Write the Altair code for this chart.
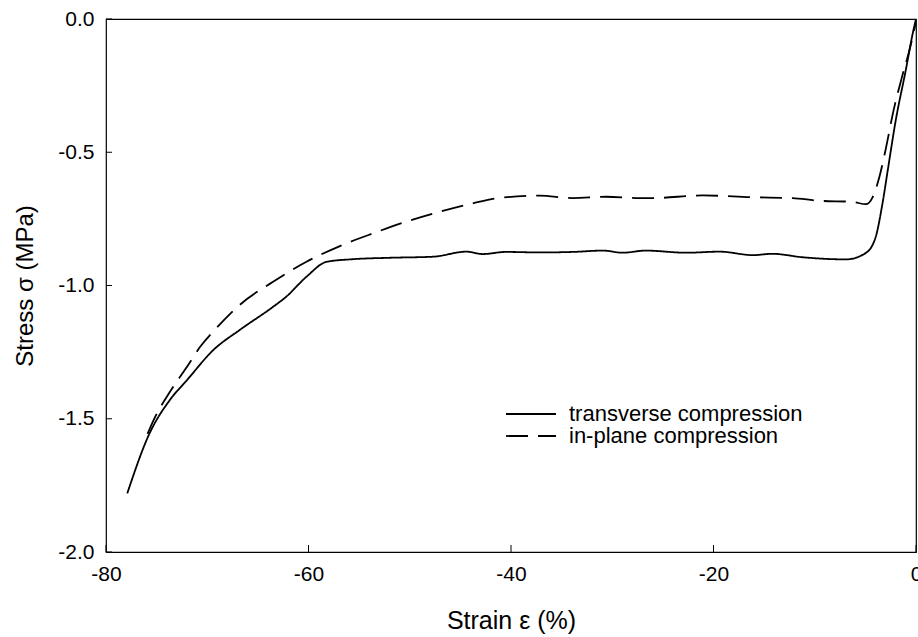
import altair as alt
import pandas as pd

# transverse compression (solid)
t_strain = [-77.9, -75.7, -73.7, -72.0, -69.4, -66.8, -63.5, -62.2, -60.2, -58.2,
            -55.9, -52.0, -47.7, -44.4, -42.8, -40.5, -37.2, -33.9, -30.9, -29.0,
            -26.7, -22.7, -19.4, -16.1, -14.2, -11.2, -6.9, -5.0, -4.0, -3.3,
            -2.8, -2.0, -1.0, -0.3, 0.0]
t_stress = [-1.78, -1.555, -1.43, -1.355, -1.242, -1.167, -1.08, -1.042, -0.967, -0.911,
            -0.902, -0.896, -0.892, -0.873, -0.882, -0.874, -0.876, -0.874, -0.869, -0.877,
            -0.869, -0.877, -0.873, -0.886, -0.881, -0.894, -0.902, -0.879, -0.82, -0.69,
            -0.57, -0.38, -0.19, -0.05, 0.0]

# in-plane compression (dashed)
p_strain = [-75.9, -75.3, -73.7, -72.0, -70.7, -69.1, -66.8, -63.5, -60.2, -56.9,
            -53.6, -50.3, -47.0, -43.8, -41.5, -37.2, -33.9, -30.6, -27.3, -26.0,
            -21.1, -16.1, -12.2, -9.6, -6.3, -4.95, -4.3, -3.6, -3.0, -2.2,
            -1.4, -0.6, 0.0]
p_stress = [-1.557, -1.505, -1.40, -1.305, -1.23, -1.16, -1.073, -0.986, -0.911, -0.852,
            -0.804, -0.760, -0.723, -0.692, -0.673, -0.663, -0.672, -0.667, -0.672, -0.672,
            -0.662, -0.669, -0.672, -0.682, -0.686, -0.695, -0.67, -0.59, -0.49, -0.34,
            -0.22, -0.11, -0.01]

series_names = ["transverse compression", "in-plane compression"]
x_ticks = [-80, -60, -40, -20, 0]
y_ticks = [-2.0, -1.5, -1.0, -0.5, 0.0]

rows = []
for i, (x, y) in enumerate(zip(t_strain, t_stress)):
    rows.append({"strain": x, "stress": y, "series": series_names[0], "i": i})
for i, (x, y) in enumerate(zip(p_strain, p_stress)):
    rows.append({"strain": x, "stress": y, "series": series_names[1], "i": i})
df = pd.DataFrame(rows)

W, H = 810, 533
xscale = alt.Scale(domain=[-80, 0], nice=False, zero=False)
yscale = alt.Scale(domain=[-2, 0], nice=False, zero=False)

lines = alt.Chart(df).mark_line(color="black", strokeWidth=1.8, clip=True,
                                interpolate="monotone").encode(
    x=alt.X("strain:Q", scale=xscale,
            axis=alt.Axis(values=x_ticks, title="Strain ε (%)",
                          labelExpr="replace(format(datum.value,'d'),'\u2212','-')",
                          ticks=False, domain=False, grid=False, labelFlush=False,
                          labelFontSize=21, titleFontSize=25,
                          labelPadding=11, titlePadding=24)),
    y=alt.Y("stress:Q", scale=yscale,
            axis=alt.Axis(values=y_ticks, title="Stress σ (MPa)",
                          labelExpr="replace(format(datum.value,'.1f'),'\u2212','-')",
                          ticks=False, domain=False, grid=False, labelFlush=False,
                          labelFontSize=21, titleFontSize=24,
                          labelPadding=12, titlePadding=20)),
    strokeDash=alt.StrokeDash("series:N",
                              scale=alt.Scale(domain=series_names, range=[[1, 0], [22, 10]]),
                              legend=alt.Legend(title=None, orient="none", legendX=414, legendY=384,
                                                symbolType="M-5,0L5,0", symbolSize=100,
                                                symbolStrokeWidth=1.8, symbolStrokeColor="black",
                                                symbolFillColor="transparent",
                                                labelFontSize=22, labelOffset=27, labelLimit=400,
                                                rowPadding=0)),
    order=alt.Order("i:Q"),
)

xt = alt.Chart(pd.DataFrame({"v": x_ticks})).mark_rule(color="black", strokeWidth=1).encode(
    x=alt.X("v:Q", scale=xscale), y=alt.value(H), y2=alt.value(H - 7))
yt = alt.Chart(pd.DataFrame({"v": y_ticks})).mark_rule(color="black", strokeWidth=1).encode(
    y=alt.Y("v:Q", scale=yscale), x=alt.value(0), x2=alt.value(6))

chart = alt.layer(lines, xt, yt).properties(
    width=W, height=H,
    autosize=alt.AutoSizeParams(type="none"),
    padding={"left": 106, "top": 19, "right": 2, "bottom": 85},
).configure(font="Liberation Sans").configure_view(
    stroke="black", strokeWidth=1.2
).configure_axis(
    titleFontWeight="normal", labelColor="black", titleColor="black",
).configure_legend(labelColor="black")

chart.save("out.html", embed_options={"renderer": "svg", "actions": False})
